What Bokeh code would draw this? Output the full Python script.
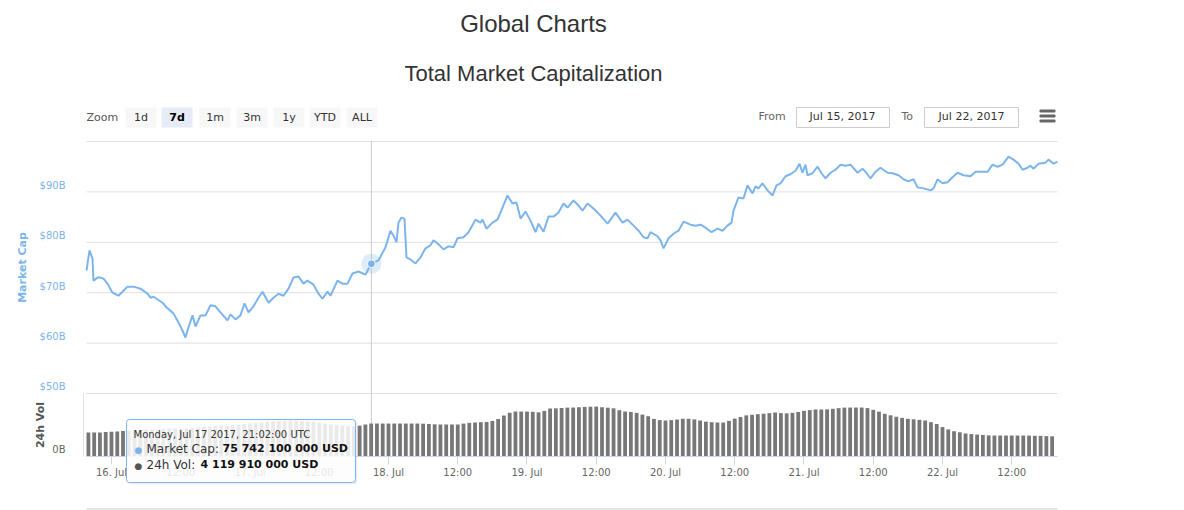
from datetime import datetime
from bokeh.plotting import figure
from bokeh.models import Range1d, FixedTicker, Label, BoxAnnotation, LinearAxis
from bokeh.embed import file_html
from bokeh.resources import INLINE

# ---------------- data ----------------
BASE = datetime(2017, 7, 15)  # hours below are counted from 2017-07-15 00:00 UTC

mcap_hours = [
    19.67, 20.19, 20.71, 20.88, 21.57, 22.09, 22.61, 23.31, 24.17, 25.21, 25.91, 26.77, 27.81,
    29.03, 30.24, 30.76, 31.28, 32.84, 33.70, 34.74, 35.61, 36.30, 36.82, 37.34, 38.04, 38.56,
    39.42, 40.29, 41.16, 42.02, 42.89, 44.10, 44.62, 45.49, 46.35, 47.05, 47.74, 48.61, 49.47,
    50.17, 51.21, 52.07, 52.94, 53.81, 54.67, 55.54, 56.41, 57.27, 57.96, 59.00, 59.87, 60.56,
    61.43, 61.95, 63.16, 64.03, 64.90, 65.76, 66.80, 68.01, 69.03, 70.27, 71.48, 72.35, 72.87,
    73.39, 73.73, 74.25, 74.77, 75.12, 75.81, 76.68, 77.54, 78.41, 79.28, 79.80, 80.66, 81.53,
    82.40, 83.27, 83.96, 85.00, 85.87, 87.08, 87.94, 88.29, 88.98, 90.02, 90.89, 91.76, 92.62,
    93.49, 94.18, 94.88, 95.74, 96.61, 97.48, 98.00, 98.86, 99.73, 100.59, 101.46, 102.33,
    103.02, 104.06, 104.93, 105.62, 106.49, 107.53, 108.74, 109.96, 111.34, 112.56, 113.42,
    114.46, 115.33, 116.19, 116.89, 117.40, 118.62, 119.14, 119.66, 120.53, 121.39, 122.26,
    123.13, 124.34, 125.21, 126.07, 126.94, 127.98, 129.02, 129.88, 130.75, 131.44, 131.79,
    132.66, 133.52, 134.21, 135.08, 135.60, 136.12, 136.81, 137.68, 138.55, 139.24, 139.93,
    140.80, 141.66, 142.53, 143.22, 143.74, 144.26, 144.61, 145.47, 146.34, 147.04, 147.73,
    148.60, 149.46, 150.33, 151.20, 152.06, 153.28, 154.14, 154.66, 155.53, 156.40, 157.26,
    158.48, 159.34, 160.38, 161.25, 162.11, 162.98, 163.68, 164.72, 165.93, 166.45, 167.14,
    168.01, 168.87, 169.74, 170.61, 171.65, 172.86, 173.73, 174.94, 175.81, 176.67, 177.54,
    178.41, 179.45, 180.31, 181.17, 181.87, 182.73, 183.25, 183.77, 184.64, 185.85, 186.37,
    187.24, 187.93,
]
mcap_billions = [
    74.4, 78.4, 76.8, 72.4, 73.0, 73.0, 72.8, 71.8, 70.0, 69.4, 70.2, 71.2, 71.2,
    70.8, 69.8, 69.0, 69.2, 68.0, 66.9, 65.9, 64.1, 62.5, 61.1, 63.1, 65.5, 63.3,
    65.5, 65.5, 67.5, 67.3, 66.1, 64.5, 65.7, 64.7, 65.5, 67.9, 66.1, 67.3, 69.0,
    70.2, 68.0, 69.0, 69.8, 69.4, 70.8, 73.0, 73.2, 71.8, 72.4, 71.6, 69.8, 68.8,
    70.2, 69.4, 72.4, 71.8, 71.8, 73.8, 74.2, 73.6, 75.7421, 76.4, 79.0, 82.3, 81.3,
    80.0, 83.9, 84.9, 84.7, 77.0, 76.6, 75.8, 77.0, 78.8, 79.4, 80.4, 79.6, 78.6,
    79.2, 79.0, 80.8, 81.0, 82.0, 84.5, 83.9, 84.5, 82.7, 83.9, 84.5, 86.9, 89.3,
    87.7, 87.9, 84.7, 86.1, 84.3, 82.0, 83.7, 82.1, 85.1, 85.1, 85.9, 87.7,
    86.9, 88.3, 87.3, 86.3, 87.7, 86.7, 85.3, 83.7, 85.9, 83.9, 84.5,
    83.3, 82.3, 81.0, 80.8, 82.0, 81.2, 80.4, 78.8, 80.8, 81.7, 82.3,
    84.1, 83.5, 83.3, 83.5, 82.9, 82.0, 82.7, 82.3, 83.3, 83.9, 86.3,
    88.9, 88.7, 91.3, 89.7, 91.1, 90.7, 91.7, 90.3, 89.3, 91.3, 91.7,
    93.1, 93.5, 94.2, 95.6, 93.8, 95.4, 93.3, 93.7, 95.0, 93.7, 92.7,
    93.8, 94.4, 95.4, 95.2, 95.4, 93.8, 94.6, 94.0, 92.7, 94.0, 94.8,
    93.8, 93.7, 93.3, 92.5, 92.1, 92.5, 90.9, 90.7, 90.3, 90.7, 92.5,
    91.7, 91.9, 92.9, 93.8, 93.3, 93.1, 94.0, 94.0, 94.0, 95.4, 95.0,
    95.4, 97.0, 96.4, 95.6, 94.4, 94.8, 95.2, 94.6, 95.6, 95.8, 96.4,
    95.6, 96.0,
]

vol_hours = list(range(20, 188))  # one bar per hour
vol_billions = [
    3.00, 3.00, 3.00, 3.06, 3.09, 3.12, 3.19, 3.24, 3.27, 3.31,
    3.35, 3.38, 3.41, 3.45, 3.49, 3.50, 3.50, 3.50, 3.52, 3.60,
    3.68, 3.74, 3.78, 3.81, 3.85, 3.90, 3.98, 4.05, 4.13, 4.20,
    4.26, 4.34, 4.39, 4.43, 4.46, 4.50, 4.46, 4.43, 4.39, 4.35,
    4.21, 4.10, 4.00, 3.93, 3.84, 3.78, 3.79, 3.86, 4.00, 4.12,
    4.12, 4.12, 4.12, 4.12, 4.12, 4.12, 4.12, 4.12, 4.10, 4.06,
    4.02, 4.00, 4.00, 4.00, 4.00, 4.11, 4.20, 4.25, 4.29, 4.32,
    4.45, 4.69, 5.12, 5.47, 5.62, 5.62, 5.62, 5.59, 5.52, 5.70,
    6.00, 6.02, 6.06, 6.11, 6.12, 6.16, 6.20, 6.22, 6.24, 6.16,
    6.10, 6.02, 5.79, 5.62, 5.56, 5.46, 5.24, 5.03, 4.70, 4.55,
    4.50, 4.55, 4.62, 4.71, 4.71, 4.64, 4.50, 4.36, 4.29, 4.25,
    4.25, 4.45, 4.74, 4.94, 5.14, 5.21, 5.29, 5.35, 5.42, 5.50,
    5.42, 5.39, 5.46, 5.56, 5.71, 5.80, 5.88, 5.88, 5.89, 5.96,
    6.04, 6.11, 6.12, 6.12, 6.12, 6.05, 5.83, 5.61, 5.34, 5.15,
    4.97, 4.83, 4.71, 4.65, 4.58, 4.50, 4.29, 4.06, 3.68, 3.39,
    3.16, 3.03, 2.88, 2.80, 2.74, 2.69, 2.64, 2.62, 2.62, 2.62,
    2.62, 2.62, 2.62, 2.61, 2.59, 2.58, 2.55, 2.52,
]

x_tick_hours = [24, 36, 48, 60, 72, 84, 96, 108, 120, 132, 144, 156, 168, 180]
x_tick_labels = ["16. Jul", "12:00", "17. Jul", "12:00", "18. Jul", "12:00", "19. Jul",
                 "12:00", "20. Jul", "12:00", "21. Jul", "12:00", "22. Jul", "12:00"]
y_tick_values = [50, 60, 70, 80, 90]
y_tick_labels = ["$50B", "$60B", "$70B", "$80B", "$90B"]
y_grid_values = [50, 60, 70, 80, 90, 100]
vol_tick_values = [0]
vol_tick_labels = ["0B"]

zoom_buttons = ["1d", "7d", "1m", "3m", "1y", "YTD", "ALL"]
zoom_selected = "7d"
date_from = "Jul 15, 2017"
date_to = "Jul 22, 2017"

tip_time = datetime(2017, 7, 17, 21, 2, 0)
tip_mcap_usd = 75742100000
tip_vol_usd = 4119910000

# ---------------- layout (pixels of the 1184x510 page) ----------------
W, H = 1184, 510
PL, PR = 86, 1057                 # plot area left / right
HOUR_L, HOUR_R = 19.67, 187.93    # visible time window at PL / PR
PX_100, PX_50, PX_BOT = 141, 393, 456
VOL_B_PER_PX = 0.125

HPP = (HOUR_R - HOUR_L) / (PR - PL)          # hours per pixel
PPB = (PX_50 - PX_100) / 50.0                # pixels per billion (price pane)


def hour_at(X):
    return HOUR_L + (X - PL) * HPP


def price_at(Y):
    return 100 - (Y - PX_100) / PPB


def vol_at(Y):
    return (PX_BOT - Y) * VOL_B_PER_PX


BLUE = "#7cb5ec"
SMALL = "DejaVu Sans"

p = figure(width=W, height=H, output_backend="svg", toolbar_location=None, tools="",
           title=None, x_axis_location=None, y_axis_location=None,
           x_range=Range1d(hour_at(0), hour_at(W)), y_range=Range1d(price_at(H), price_at(0)),
           min_border=0, min_border_left=0, min_border_right=0, min_border_top=0,
           min_border_bottom=0)
p.extra_y_ranges = {"vol": Range1d(vol_at(H), vol_at(0))}
p.outline_line_color = None
p.background_fill_color = "white"
p.border_fill_color = "white"
p.grid.visible = False

# horizontal grid lines of the price pane
p.segment(x0=[HOUR_L] * len(y_grid_values), x1=[HOUR_R] * len(y_grid_values),
          y0=y_grid_values, y1=y_grid_values, line_color="#e0e0e0", line_width=1)

# x axis
xa = LinearAxis(ticker=FixedTicker(ticks=x_tick_hours), fixed_location=price_at(PX_BOT),
                bounds=(HOUR_L, HOUR_R))
xa.major_label_overrides = dict(zip(x_tick_hours, x_tick_labels))
xa.minor_tick_line_color = None
xa.axis_line_color = "#ccd6eb"
xa.major_tick_line_color = "#ccd6eb"
xa.major_tick_in = 0
xa.major_tick_out = 8
xa.major_label_standoff = 2
xa.major_label_text_color = "#666666"
xa.major_label_text_font = SMALL
xa.major_label_text_font_size = "10px"
p.add_layout(xa, "below")

# price axis (labels sit just above their grid line, as in Highcharts)
ya = LinearAxis(ticker=FixedTicker(ticks=y_tick_values), fixed_location=HOUR_L,
                bounds=(50, 100), axis_label="Market Cap")
ya.major_label_overrides = {v: t + "\n" for v, t in zip(y_tick_values, y_tick_labels)}
ya.axis_line_color = None
ya.major_tick_line_color = None
ya.minor_tick_line_color = None
ya.major_label_standoff = 15
ya.major_label_text_color = BLUE
ya.major_label_text_font = SMALL
ya.major_label_text_font_size = "10px"
ya.axis_label_text_color = BLUE
ya.axis_label_text_font = SMALL
ya.axis_label_text_font_size = "11px"
ya.axis_label_text_font_style = "bold"
ya.axis_label_standoff = 8
p.add_layout(ya, "left")

# volume axis
va = LinearAxis(y_range_name="vol", ticker=FixedTicker(ticks=vol_tick_values),
                fixed_location=hour_at(PL - 3), bounds=(0, vol_at(PX_50)), axis_label="24h Vol")
va.major_label_overrides = {v: t + "\n" for v, t in zip(vol_tick_values, vol_tick_labels)}
va.axis_line_color = "#e0e0e0"
va.major_tick_line_color = None
va.minor_tick_line_color = None
va.major_label_standoff = 12
va.major_label_text_color = "#666666"
va.major_label_text_font = SMALL
va.major_label_text_font_size = "10px"
va.axis_label_text_color = "#555555"
va.axis_label_text_font = SMALL
va.axis_label_text_font_size = "11px"
va.axis_label_text_font_style = "bold"
va.axis_label_standoff = 2
p.add_layout(va, "left")

tip_hour = (tip_time - BASE).total_seconds() / 3600.0
tip_mcap_b = tip_mcap_usd / 1e9

# crosshair
p.segment(x0=[tip_hour], x1=[tip_hour], y0=[price_at(PX_BOT)], y1=[100],
          line_color="#cccccc", line_width=1)

p.vbar(x=vol_hours, top=vol_billions, bottom=0, width=0.66, y_range_name="vol",
       fill_color="#777777", line_color=None)
p.line(mcap_hours, mcap_billions, line_color=BLUE, line_width=2)
p.scatter([tip_hour], [tip_mcap_b], size=20, fill_color=BLUE, fill_alpha=0.25, line_color=None)
p.scatter([tip_hour], [tip_mcap_b], size=8, fill_color=BLUE, line_color="white", line_width=1)


def lab(X, Y, text, size, color, align="left", bold=False, font=SMALL):
    p.add_layout(Label(x=X, y=H - Y, x_units="screen", y_units="screen", text=text,
                       text_font=font, text_font_size=f"{size}px", text_color=color,
                       text_align=align, text_baseline="middle",
                       text_font_style="bold" if bold else "normal"))


def box(X0, Y0, X1, Y1, fill, alpha=1.0, line=None, radius=0):
    p.add_layout(BoxAnnotation(left=X0, right=X1, top=H - Y0, bottom=H - Y1,
                               left_units="screen", right_units="screen",
                               top_units="screen", bottom_units="screen",
                               fill_color=fill, fill_alpha=alpha,
                               line_color=line if line else fill,
                               line_alpha=1.0 if line else 0.0,
                               border_radius=radius))


# titles
lab(533, 23, "Global Charts", 24, "#333333", align="center", font="Liberation Sans")
lab(533, 73, "Total Market Capitalization", 22, "#333333", align="center", font="Liberation Sans")

# range selector
lab(86, 117, "Zoom", 11, "#555555")
btn_left = [125, 161, 199, 236, 273, 309, 346]
for bl, name in zip(btn_left, zoom_buttons):
    sel = name == zoom_selected
    box(bl, 107, bl + 31, 127, "#e6ebf5" if sel else "#f7f7f7")
    lab(bl + 15.5, 117, name, 11, "#000000" if sel else "#333333", align="center", bold=sel)

lab(758, 116, "From", 11, "#666666")
box(796, 107, 889, 127, "white", line="#cccccc")
lab(842, 116, date_from, 11, "#333333", align="center")
lab(901, 116, "To", 11, "#666666")
box(924, 107, 1018, 127, "white", line="#cccccc")
lab(971, 116, date_to, 11, "#333333", align="center")
for yy in (109, 114, 119):
    box(1039, yy, 1055, yy + 3, "#666666", radius=1)

# navigator top edge
box(PL, 508, PR, 509, "#cccccc")

# tooltip
box(127, 420, 357, 484, "#000000", alpha=0.06, radius=3)
box(126, 419, 355, 482, "white", alpha=0.85, line=BLUE, radius=3)
lab(133, 434, tip_time.strftime("%A, %b %d %Y, %H:%M:%S UTC"), 10, "#333333")
lab(138, 449, "\u25cf", 9, BLUE, align="center")
lab(146, 448, "Market Cap:", 12, "#333333")
lab(222, 448, f"{tip_mcap_usd:,}".replace(",", " ") + " USD", 11, "#111111", bold=True)
lab(138, 465, "\u25cf", 9, "#555555", align="center")
lab(146, 464, "24h Vol:", 12, "#333333")
lab(200, 464, f"{tip_vol_usd:,}".replace(",", " ") + " USD", 11, "#111111", bold=True)

open("out.html", "w").write(file_html(p, INLINE))
